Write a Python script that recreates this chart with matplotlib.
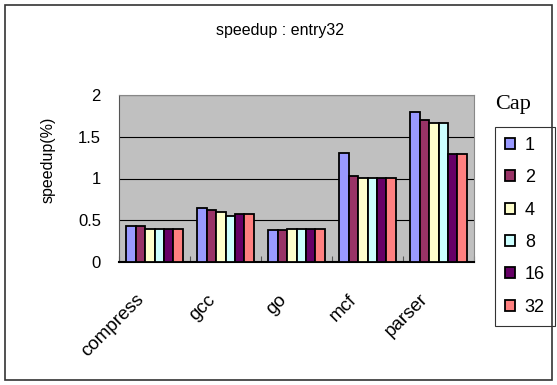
import numpy as np
import matplotlib.pyplot as plt
import matplotlib.transforms as mtransforms
from matplotlib.patches import Rectangle

plt.rcParams['font.family'] = ['Liberation Sans', 'DejaVu Sans']

benchmarks = ['compress', 'gcc', 'go', 'mcf', 'parser']
caps = ['1', '2', '4', '8', '16', '32']
speedup = {
    '1':  [0.43, 0.65, 0.38, 1.30, 1.80],
    '2':  [0.43, 0.62, 0.38, 1.03, 1.70],
    '4':  [0.40, 0.60, 0.40, 1.01, 1.67],
    '8':  [0.40, 0.555, 0.40, 1.01, 1.67],
    '16': [0.40, 0.575, 0.40, 1.01, 1.29],
    '32': [0.40, 0.575, 0.40, 1.01, 1.29],
}
colors = ['#9999FF', '#993366', '#FFFFCC', '#CCFFFF', '#660066', '#FF8080']

fig = plt.figure(figsize=(5.57, 3.85), dpi=100)
fig.patches.append(Rectangle((5 / 557, 5 / 385), 547 / 557, 375 / 385,
                             transform=fig.transFigure, fill=False,
                             edgecolor='#333333', linewidth=1.2))

ax = fig.add_axes([119 / 557, 1 - 262 / 385, 355 / 557, 167 / 385])
ax.set_facecolor('#C0C0C0')

x = np.arange(len(benchmarks))
w = 0.8 / len(caps)
for i, c in enumerate(caps):
    ax.bar(x - 0.4 + w * (i + 0.5), speedup[c], w, color=colors[i],
           edgecolor='black', linewidth=1.3, label=c, zorder=3)

ax.set_xlim(-0.5, len(benchmarks) - 0.5)
ax.set_ylim(0, 2)
ax.set_yticks([0, 0.5, 1, 1.5, 2])
ax.set_yticklabels(['0', '0.5', '1', '1.5', '2'], fontsize=12)
ax.yaxis.grid(True, color='black', linewidth=0.8, zorder=1)
ax.set_axisbelow(True)
ax.tick_params(axis='y', length=0, pad=13)

# category ticks sit between groups, pointing up into the plot
ax.set_xticks(np.arange(len(benchmarks) + 1) - 0.5)
ax.set_xticklabels([])
ax.tick_params(axis='x', direction='in', length=4, color='#555555')

# rotated category names, anchored at their right end below each group
trans = mtransforms.blended_transform_factory(ax.transData, ax.transAxes)
for xi, name in zip(x, benchmarks):
    ax.annotate(name, xy=(xi, 0), xycoords=trans, xytext=(-13, -35),
                textcoords='offset pixels', rotation=45, ha='right',
                va='center', rotation_mode='anchor', fontsize=13.5)

for s in ['top', 'right']:
    ax.spines[s].set_color('#888888')
ax.spines['left'].set_color('#555555')
ax.spines['bottom'].set_color('black')
ax.spines['bottom'].set_linewidth(1.5)

fig.text(48 / 557, 1 - 160 / 385, 'speedup(%)', rotation=90, ha='center',
         va='center', fontsize=11.5)
fig.text(280 / 557, 1 - 30 / 385, 'speedup : entry32', ha='center',
         va='center', fontsize=11.5)

fig.text(495 / 557, 1 - 105 / 385, 'Cap', ha='left', va='center',
         fontsize=16, family='Liberation Serif')
leg = ax.legend(loc='upper left', bbox_to_anchor=(495 / 557, 1 - 127 / 385),
                bbox_transform=fig.transFigure, frameon=True, fancybox=False,
                edgecolor='black', fontsize=13, handlelength=0.55,
                handleheight=0.55, handletextpad=0.55, labelspacing=0.85,
                borderpad=0.55, borderaxespad=0)
leg.get_frame().set_linewidth(0.8)

fig.savefig('out.png', dpi=100)
